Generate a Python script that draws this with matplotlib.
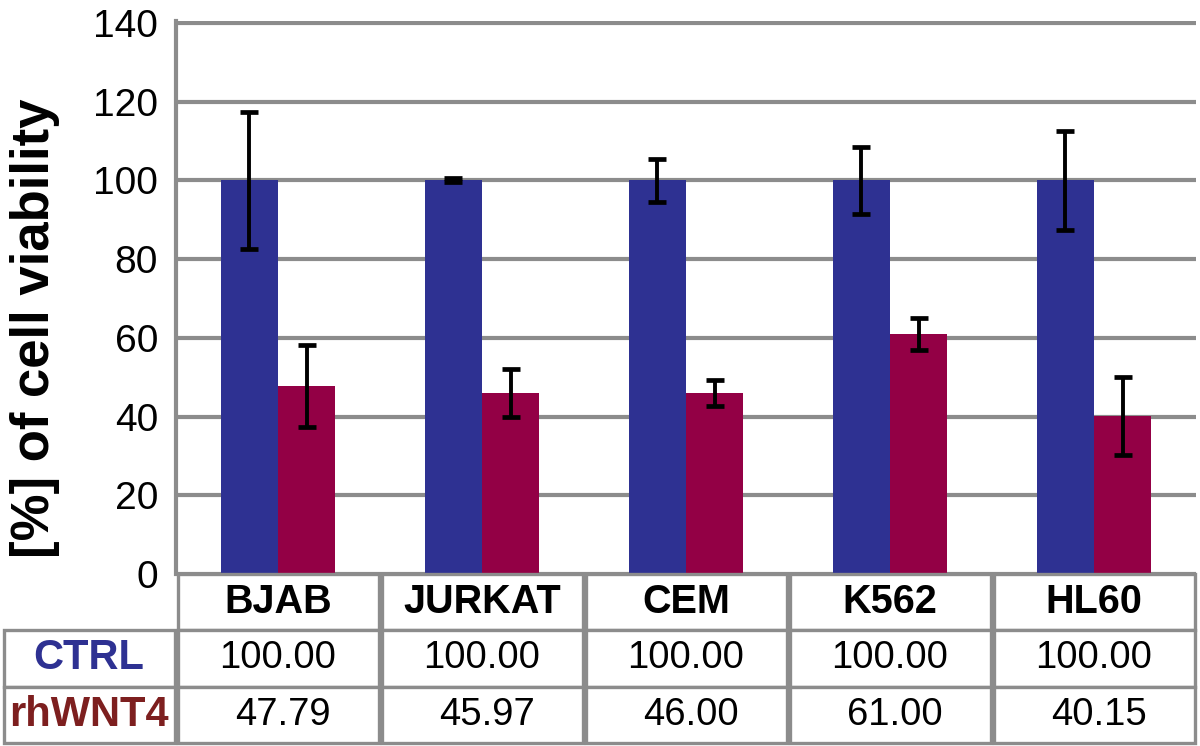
import numpy as np
import matplotlib.pyplot as plt
from matplotlib.patches import Rectangle
from matplotlib.transforms import blended_transform_factory

plt.rcParams['font.family'] = ['Liberation Sans', 'DejaVu Sans']

cell_lines = ['BJAB', 'JURKAT', 'CEM', 'K562', 'HL60']
series_names = ['CTRL', 'rhWNT4']
ctrl = [100.00, 100.00, 100.00, 100.00, 100.00]
ctrl_err = [17.5, 0.5, 5.5, 8.5, 12.5]
wnt4 = [47.79, 45.97, 46.00, 61.00, 40.15]
wnt4_err = [10.5, 6.2, 3.4, 4.0, 10.0]
yticks = [0, 20, 40, 60, 80, 100, 120, 140]

blue = '#2e3192'
red = '#930045'
label_red = '#7d1f1f'
gray = '#8c8c8c'

fig = plt.figure(figsize=(12, 7.46), dpi=100)
ax = fig.add_axes([0.1467, 0.2306, 0.85, 0.7412])

x = np.arange(len(cell_lines))
w = 0.28
ax.bar(x - w / 2, ctrl, w, color=blue, zorder=3)
ax.bar(x + w / 2, wnt4, w, color=red, zorder=3)
ax.errorbar(x - w / 2, ctrl, yerr=ctrl_err, fmt='none', ecolor='black',
            elinewidth=2.8, capsize=6.5, capthick=3.4, zorder=4)
ax.errorbar(x + w / 2, wnt4, yerr=wnt4_err, fmt='none', ecolor='black',
            elinewidth=2.8, capsize=6.5, capthick=3.4, zorder=4)

ax.set_xlim(-0.5, len(cell_lines) - 0.5)
ax.set_ylim(0, 140.5)
ax.set_yticks(yticks)
ax.set_xticks([])
ax.yaxis.grid(True, color=gray, lw=3)
ax.set_axisbelow(True)
for s in ['top', 'right', 'bottom']:
    ax.spines[s].set_visible(False)
ax.spines['left'].set_color(gray)
ax.spines['left'].set_linewidth(3)
ax.tick_params(axis='y', length=0, pad=13, labelsize=28)

fig.text(35 / 1200, 1 - 328 / 746, '[%] of cell viability', rotation=90,
         ha='center', va='center', fontsize=38, fontweight='bold')

# data table under the axis
tr = blended_transform_factory(ax.transData, ax.transAxes)
row_h = 0.1019
inset = 0.0075
left_edge = -1.353


def cell(x0, x1, row):
    y0 = -row_h * (row + 1)
    ax.add_patch(Rectangle((x0 + inset, y0), x1 - x0 - 2 * inset, row_h,
                           transform=tr, clip_on=False, facecolor='white',
                           edgecolor=gray, lw=2.4, zorder=5))
    return (x0 + x1) / 2, y0 + row_h / 2


for i, name in enumerate(cell_lines):
    cx, cy = cell(i - 0.5, i + 0.5, 0)
    ax.text(cx, cy, name, transform=tr, ha='center', va='center',
            fontsize=28.5, fontweight='bold', zorder=6)
    for r, vals in enumerate([ctrl, wnt4]):
        cx, cy = cell(i - 0.5, i + 0.5, r + 1)
        ax.text(cx + 0.022 * r, cy, f'{vals[i]:.2f}', transform=tr,
                ha='center', va='center', fontsize=27.5, zorder=6)

for r, (name, col) in enumerate(zip(series_names, [blue, label_red])):
    cx, cy = cell(left_edge, -0.5, r + 1)
    ax.text(cx, cy, name, transform=tr, ha='center', va='center',
            fontsize=30, fontweight='bold', color=col, zorder=6)

fig.savefig('out.png', dpi=100)
